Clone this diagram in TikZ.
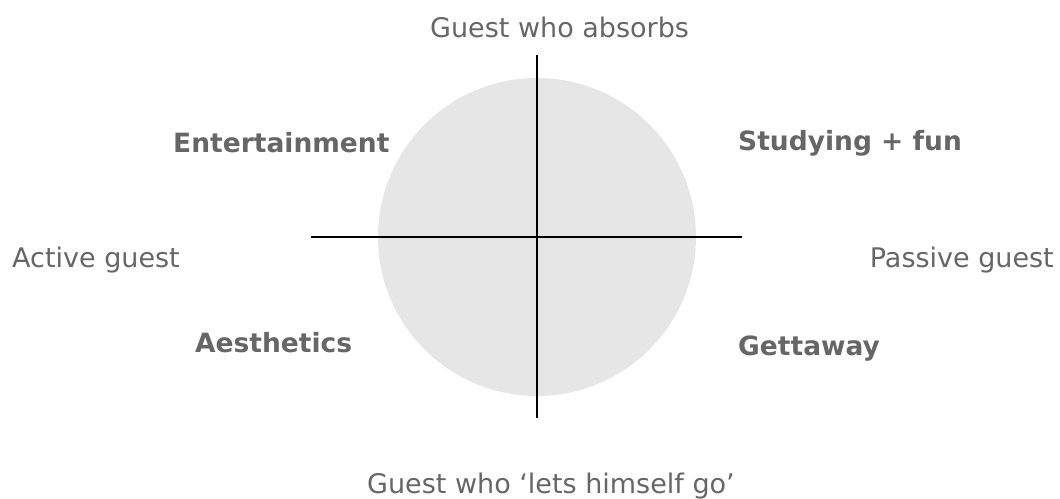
\documentclass[tikz,border=0pt]{standalone}
\usepackage{fontspec}
\setmainfont{DejaVu Sans}
\definecolor{txt}{HTML}{666666}
\definecolor{disc}{HTML}{E6E6E6}
\begin{document}
\begin{tikzpicture}[x=1pt,y=-1pt,
  lbl/.style={text=txt,font=\fontsize{27}{32}\selectfont,inner sep=0pt,anchor=base west},
  blbl/.style={text=txt,font=\fontsize{26.5}{32}\selectfont\bfseries,inner sep=0pt,anchor=base west},
  axis/.style={draw=black,line width=1.5pt}]
\useasboundingbox (0,0) rectangle (1060,498);
\node[circle,fill=disc,minimum size=318pt,inner sep=0pt] (c) at (537,237) {};
\coordinate (top) at (537,55);
\coordinate (bot) at (537,418);
\coordinate (lft) at (311,237);
\coordinate (rgt) at (742,237);
\draw[axis] (top) -- (bot);
\draw[axis] (lft) -- (rgt);
\node[lbl] (absorb) at (430,37) {Guest who absorbs};
\node[lbl] (letgo) at (367,493) {Guest who ‘lets himself go’};
\node[lbl] (active) at (12,267) {Active guest};
\node[lbl,anchor=base east] (passive) at (1054,267) {Passive guest};
\node[blbl] (ent) at (173,152) {Entertainment};
\node[blbl] (study) at (738,150) {Studying + fun};
\node[blbl] (aes) at (195,352) {Aesthetics};
\node[blbl] (get) at (738,355) {Gettaway};
\end{tikzpicture}
\end{document}
